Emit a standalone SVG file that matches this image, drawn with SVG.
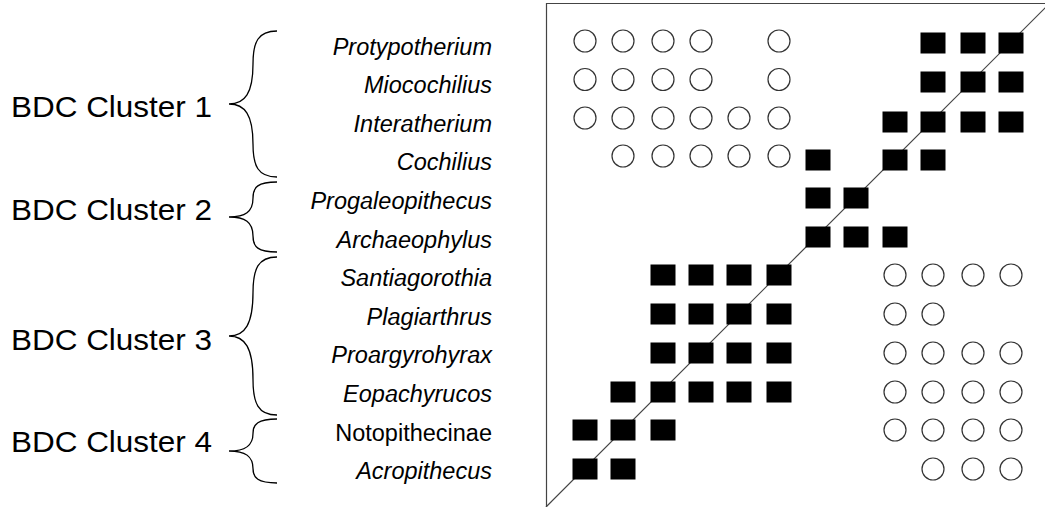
<svg xmlns="http://www.w3.org/2000/svg" xmlns:xlink="http://www.w3.org/1999/xlink" width="1045" height="507" viewBox="0 0 1045 507">
<style>
.cl{font-family:"Liberation Sans",Arial,sans-serif;font-size:30px;fill:#000}
.tx{font-family:"Liberation Sans",Arial,sans-serif;font-size:23.5px;fill:#000;text-anchor:end}
.it{font-style:italic}
.br{fill:none;stroke:#000;stroke-width:1.3}
.fr{fill:none;stroke:#444;stroke-width:1.2}
.sq{fill:#000}
.ci{fill:#fff;stroke:#333;stroke-width:1.2}
</style>
<defs>
<rect id="s" class="sq" width="25" height="21"/>
<circle id="c" class="ci" r="11"/>
</defs>
<rect width="1045" height="507" fill="#fff"/>
<g id="frame">
<path class="fr" d="M546.5,507 V3.5 H1045"/>
<line class="fr" x1="546" y1="507" x2="1050" y2="3"/>
</g>
<g id="clusters">
<g id="cluster1"><text class="cl" x="11" y="116.5" textLength="201" lengthAdjust="spacingAndGlyphs">BDC Cluster 1</text><path class="br" d="M277,31 C258,31 253,42 253,64 C253,93 245,104 229,104 C245,104 253,115 253,144 C253,166 258,177 277,177"/></g>
<g id="cluster2"><text class="cl" x="11" y="220" textLength="201" lengthAdjust="spacingAndGlyphs">BDC Cluster 2</text><path class="br" d="M277,182 C258,182 253,187 253,198 C253,212 245,217 229,217 C245,217 253,222 253,236 C253,247 258,252 277,252"/></g>
<g id="cluster3"><text class="cl" x="11" y="350" textLength="201" lengthAdjust="spacingAndGlyphs">BDC Cluster 3</text><path class="br" d="M277,257 C258,257 253,269 253,292.5 C253,324 245,336 229,336 C245,336 253,348 253,379.5 C253,403 258,415 277,415"/></g>
<g id="cluster4"><text class="cl" x="11" y="451.5" textLength="201" lengthAdjust="spacingAndGlyphs">BDC Cluster 4</text><path class="br" d="M277,419 C258,419 253,424 253,433.4 C253,446 245,451 229,451 C245,451 253,456 253,468.6 C253,478 258,483 277,483"/></g>
</g>
<g id="labels">
<text class="tx it" x="492" y="54.5">Protypotherium</text>
<text class="tx it" x="492" y="93">Miocochilius</text>
<text class="tx it" x="492" y="131.7">Interatherium</text>
<text class="tx it" x="492" y="170.3">Cochilius</text>
<text class="tx it" x="492" y="208.9">Progaleopithecus</text>
<text class="tx it" x="492" y="247.5">Archaeophylus</text>
<text class="tx it" x="492" y="286">Santiagorothia</text>
<text class="tx it" x="492" y="324.7">Plagiarthrus</text>
<text class="tx it" x="492" y="363.3">Proargyrohyrax</text>
<text class="tx it" x="492" y="401.9">Eopachyrucos</text>
<text class="tx" x="492" y="440.5">Notopithecinae</text>
<text class="tx it" x="492" y="479">Acropithecus</text>
</g>
<g id="matrix">
<g id="row1">
<use xlink:href="#c" x="585" y="41"/><use xlink:href="#c" x="623" y="41"/><use xlink:href="#c" x="663" y="41"/><use xlink:href="#c" x="701" y="41"/><use xlink:href="#c" x="779" y="41"/>
<use xlink:href="#s" x="920.5" y="32.5"/><use xlink:href="#s" x="960.5" y="32.5"/><use xlink:href="#s" x="998.5" y="32.5"/>
</g>
<g id="row2">
<use xlink:href="#c" x="585" y="79.5"/><use xlink:href="#c" x="623" y="79.5"/><use xlink:href="#c" x="663" y="79.5"/><use xlink:href="#c" x="701" y="79.5"/><use xlink:href="#c" x="779" y="79.5"/>
<use xlink:href="#s" x="920.5" y="71.5"/><use xlink:href="#s" x="960.5" y="71.5"/><use xlink:href="#s" x="998.5" y="71.5"/>
</g>
<g id="row3">
<use xlink:href="#c" x="585" y="118"/><use xlink:href="#c" x="623" y="118"/><use xlink:href="#c" x="663" y="118"/><use xlink:href="#c" x="701" y="118"/><use xlink:href="#c" x="739" y="118"/><use xlink:href="#c" x="779" y="118"/>
<use xlink:href="#s" x="882.5" y="111.5"/><use xlink:href="#s" x="920.5" y="111.5"/><use xlink:href="#s" x="960.5" y="111.5"/><use xlink:href="#s" x="998.5" y="111.5"/>
</g>
<g id="row4">
<use xlink:href="#c" x="623" y="156"/><use xlink:href="#c" x="663" y="156"/><use xlink:href="#c" x="701" y="156"/><use xlink:href="#c" x="739" y="156"/><use xlink:href="#c" x="779" y="156"/>
<use xlink:href="#s" x="805.5" y="149.5"/><use xlink:href="#s" x="882.5" y="149.5"/><use xlink:href="#s" x="920.5" y="149.5"/>
</g>
<g id="row5">
<use xlink:href="#s" x="805.5" y="187.5"/><use xlink:href="#s" x="843.5" y="187.5"/>
</g>
<g id="row6">
<use xlink:href="#s" x="805.5" y="226.5"/><use xlink:href="#s" x="843.5" y="226.5"/><use xlink:href="#s" x="882.5" y="226.5"/>
</g>
<g id="row7">
<use xlink:href="#s" x="650.5" y="264.5"/><use xlink:href="#s" x="688.5" y="264.5"/><use xlink:href="#s" x="726.5" y="264.5"/><use xlink:href="#s" x="766.5" y="264.5"/>
<use xlink:href="#c" x="895" y="275"/><use xlink:href="#c" x="933" y="275"/><use xlink:href="#c" x="973" y="275"/><use xlink:href="#c" x="1011" y="275"/>
</g>
<g id="row8">
<use xlink:href="#s" x="650.5" y="303.5"/><use xlink:href="#s" x="688.5" y="303.5"/><use xlink:href="#s" x="726.5" y="303.5"/><use xlink:href="#s" x="766.5" y="303.5"/>
<use xlink:href="#c" x="895" y="314"/><use xlink:href="#c" x="933" y="314"/>
</g>
<g id="row9">
<use xlink:href="#s" x="650.5" y="342.5"/><use xlink:href="#s" x="688.5" y="342.5"/><use xlink:href="#s" x="726.5" y="342.5"/><use xlink:href="#s" x="766.5" y="342.5"/>
<use xlink:href="#c" x="895" y="353"/><use xlink:href="#c" x="933" y="353"/><use xlink:href="#c" x="973" y="353"/><use xlink:href="#c" x="1011" y="353"/>
</g>
<g id="row10">
<use xlink:href="#s" x="610.5" y="381.5"/><use xlink:href="#s" x="650.5" y="381.5"/><use xlink:href="#s" x="688.5" y="381.5"/><use xlink:href="#s" x="726.5" y="381.5"/><use xlink:href="#s" x="766.5" y="381.5"/>
<use xlink:href="#c" x="895" y="392"/><use xlink:href="#c" x="933" y="392"/><use xlink:href="#c" x="973" y="392"/><use xlink:href="#c" x="1011" y="392"/>
</g>
<g id="row11">
<use xlink:href="#s" x="572.5" y="419.5"/><use xlink:href="#s" x="610.5" y="419.5"/><use xlink:href="#s" x="650.5" y="419.5"/>
<use xlink:href="#c" x="895" y="430"/><use xlink:href="#c" x="933" y="430"/><use xlink:href="#c" x="973" y="430"/><use xlink:href="#c" x="1011" y="430"/>
</g>
<g id="row12">
<use xlink:href="#s" x="572.5" y="458.5"/><use xlink:href="#s" x="610.5" y="458.5"/>
<use xlink:href="#c" x="933" y="469"/><use xlink:href="#c" x="973" y="469"/><use xlink:href="#c" x="1011" y="469"/>
</g>
</g>
</svg>
